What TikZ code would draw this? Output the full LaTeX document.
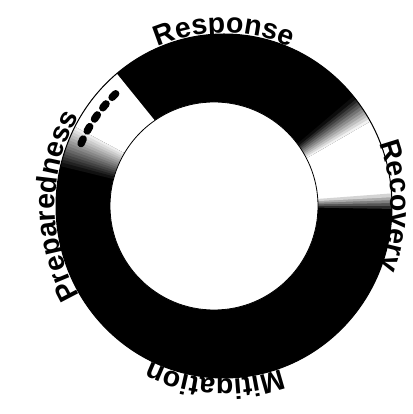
\documentclass[tikz,border=0pt]{standalone}
\usepackage{fontspec}
\newfontfamily\lblfam{Liberation Sans}
\newcommand\labfont{\lblfam\bfseries\fontsize{28.5}{28.5}\selectfont}
\usetikzlibrary{decorations.text}
\begin{document}
\begin{tikzpicture}[x=1pt,y=1pt,
  lbl/.style={postaction={decorate},decoration={text along path,text align=center,text={#1}}},
  ringshape/.style={x radius=168pt,y radius=172pt}]
\useasboundingbox (0,0) rectangle (412,414);
\coordinate (O) at (224,208);
\coordinate (I) at (214,208);
% ring body
\fill[black] (O) ellipse[ringshape];
\begin{scope}
  \clip (O) ellipse[ringshape];
  % upper-left light section
  \fill[white] (O) -- ++(129:220pt) arc[start angle=129,end angle=152,radius=220pt] -- cycle;
  \foreach \a in {152,...,165}{
    \pgfmathsetmacro\p{(\a-151)/15*100}
    \fill[black!\p] (O) -- ++(\a:220pt) arc[start angle=\a,end angle=\a+1.3,radius=220pt] -- cycle;
  }
  % right light section
  \fill[white] (O) -- ++(4:220pt) arc[start angle=4,end angle=30,radius=220pt] -- cycle;
  \foreach \a in {30,...,39}{
    \pgfmathsetmacro\p{(\a-29.5)/10*100}
    \fill[black!\p] (O) -- ++(\a:220pt) arc[start angle=\a,end angle=\a+1.3,radius=220pt] -- cycle;
  }
  \foreach \a in {-2,...,3}{
    \pgfmathsetmacro\p{(4-\a)/6*100}
    \fill[black!\p] (O) -- ++(\a:220pt) arc[start angle=\a,end angle=\a+1.3,radius=220pt] -- cycle;
  }
\end{scope}
% dashed arc in upper-left section
\draw[line width=7.5pt,line cap=round,dash pattern=on 5pt off 9pt]
  (O) ++(134:156pt) arc[start angle=134,end angle=157,radius=156pt];
% inner hole and outlines
\fill[white,draw=black,line width=0.8pt] (I) circle[radius=104pt];
\draw[line width=1pt] (O) ellipse[ringshape];
% labels
\path[lbl={|\labfont|Response}] (O) ++(125:169pt and 173pt) arc[start angle=125,end angle=55,x radius=169pt,y radius=173pt];
\path[lbl={|\labfont|Recovery}] (O) ++(36:167pt and 173pt) arc[start angle=36,end angle=-36,x radius=167pt,y radius=173pt];
\path[lbl={|\labfont|Mitigation}] (O) ++(302:169pt and 173pt) arc[start angle=302,end angle=232,x radius=169pt,y radius=173pt];
\path[lbl={|\labfont|Preparedness}] (O) ++(215:169pt and 173pt) arc[start angle=215,end angle=145,x radius=169pt,y radius=173pt];
\end{tikzpicture}
\end{document}
